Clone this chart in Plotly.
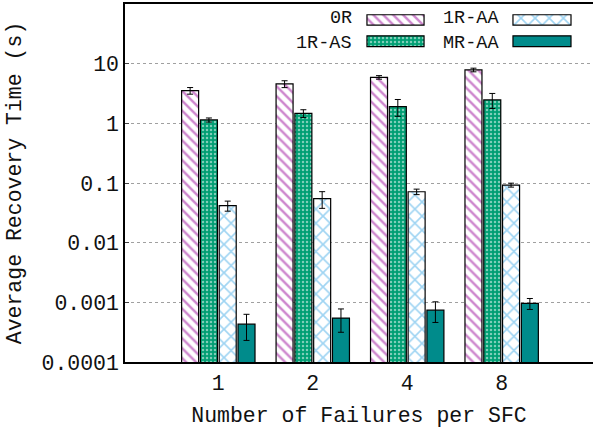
import plotly.graph_objects as go

# Number of failures per SFC (categories on the x axis)
failures = ["1", "2", "4", "8"]

# Average recovery time (s) per scheme, with error half-widths
series_names = ["0R", "1R-AS", "1R-AA", "MR-AA"]
t_0r = [3.53, 4.57, 5.90, 7.85]
e_0r = [0.45, 0.60, 0.40, 0.55]
t_1ras = [1.14, 1.47, 1.91, 2.47]
e_1ras = [0.09, 0.22, 0.60, 0.70]
t_1raa = [0.0417, 0.0546, 0.0714, 0.0923]
e_1raa = [0.008, 0.017, 0.0075, 0.007]
t_mraa = [0.00043, 0.000545, 0.00074, 0.00096]
e_mraa = [0.0002, 0.00023, 0.00028, 0.0002]

y_tickvals = [0.0001, 0.001, 0.01, 0.1, 1, 10]
y_ticktext = ["0.0001", "0.001", "0.01", "0.1", "1", "10"]

FONT = "Liberation Mono, Courier New, monospace"
FS = 21.5
LEG_FS = 18.5

styles = {
    "0R": dict(pattern=dict(shape="\\", fgcolor="#9c0d9c", bgcolor="white", size=7, solidity=0.35)),
    "1R-AS": dict(pattern=dict(shape=".", fgcolor="white", bgcolor="#009e73", size=4, solidity=0.3)),
    "1R-AA": dict(pattern=dict(shape="x", fgcolor="#3fa9e6", bgcolor="white", size=10, solidity=0.3)),
    "MR-AA": dict(color="#008b8b"),
}

values = [t_0r, t_1ras, t_1raa, t_mraa]
errors = [e_0r, e_1ras, e_1raa, e_mraa]

xpos = list(range(len(failures)))
bar_w = 0.18
pitch = 0.199
start = -(3 * pitch + bar_w) / 2


def bar_marker(name):
    marker = dict(line=dict(color="black", width=1.2))
    marker.update(styles[name])
    if "pattern" in marker:
        marker["color"] = marker["pattern"]["bgcolor"]
    return marker


fig = go.Figure()
for i, (name, vals, errs) in enumerate(zip(series_names, values, errors)):
    fig.add_trace(go.Bar(
        x=xpos, y=vals, name=name,
        width=bar_w, offset=start + i * pitch,
        marker=bar_marker(name),
        error_y=dict(type="data", array=errs, visible=True,
                     color="black", thickness=1, width=3),
        showlegend=False,
    ))

# Legend keys: swatches on an overlay axis, labels to their left
legend_layout = [
    # name, swatch x0, x1, y0, y1 (axes fraction), label x, label y
    ("0R", 0.517, 0.639, 0.941, 0.970, 0.487, 0.960),
    ("1R-AA", 0.829, 0.953, 0.941, 0.970, 0.801, 0.960),
    ("1R-AS", 0.517, 0.639, 0.881, 0.911, 0.487, 0.891),
    ("MR-AA", 0.829, 0.953, 0.881, 0.911, 0.801, 0.891),
]
for name, x0, x1, y0, y1, lx, ly in legend_layout:
    fig.add_trace(go.Bar(
        x=[(x0 + x1) / 2], y=[y1 - y0], base=[y0], width=[x1 - x0],
        marker=bar_marker(name), xaxis="x2", yaxis="y2", showlegend=False,
        hoverinfo="skip",
    ))
    fig.add_annotation(
        x=lx, y=ly, xref="x2 domain", yref="y2 domain",
        text=name, showarrow=False, xanchor="right", yanchor="middle",
        font=dict(family=FONT, size=LEG_FS, color="#111"),
        borderpad=0,
    )

fig.update_layout(
    width=593, height=430,
    margin=dict(l=125, r=0, t=4, b=68),
    paper_bgcolor="white", plot_bgcolor="white",
    font=dict(family=FONT, size=FS, color="#111"),
    barmode="overlay",
    xaxis=dict(
        range=[-0.988, 3.967],
        tickvals=xpos, ticktext=failures,
        showgrid=False, zeroline=False,
        showline=True, linecolor="black", linewidth=1.5, mirror=True,
        ticks="", tickfont=dict(size=FS),
        title=dict(text="Number of Failures per SFC", standoff=12, font=dict(size=FS)),
    ),
    yaxis=dict(
        type="log", range=[-4, 2],
        tickvals=y_tickvals, ticktext=y_ticktext,
        showgrid=True, gridcolor="#a0a0a0", griddash="dot", gridwidth=1,
        showline=True, linecolor="black", linewidth=1.5, mirror=False,
        ticks="inside", ticklen=4, tickcolor="#444",
        tickfont=dict(size=FS), zeroline=False,
        title=dict(text="Average Recovery Time (s)", standoff=14, font=dict(size=FS)),
    ),
    xaxis2=dict(range=[0, 1], overlaying="x", visible=False, fixedrange=True),
    yaxis2=dict(range=[0, 1], overlaying="y", visible=False, fixedrange=True),
)

fig.write_html("out.html")
